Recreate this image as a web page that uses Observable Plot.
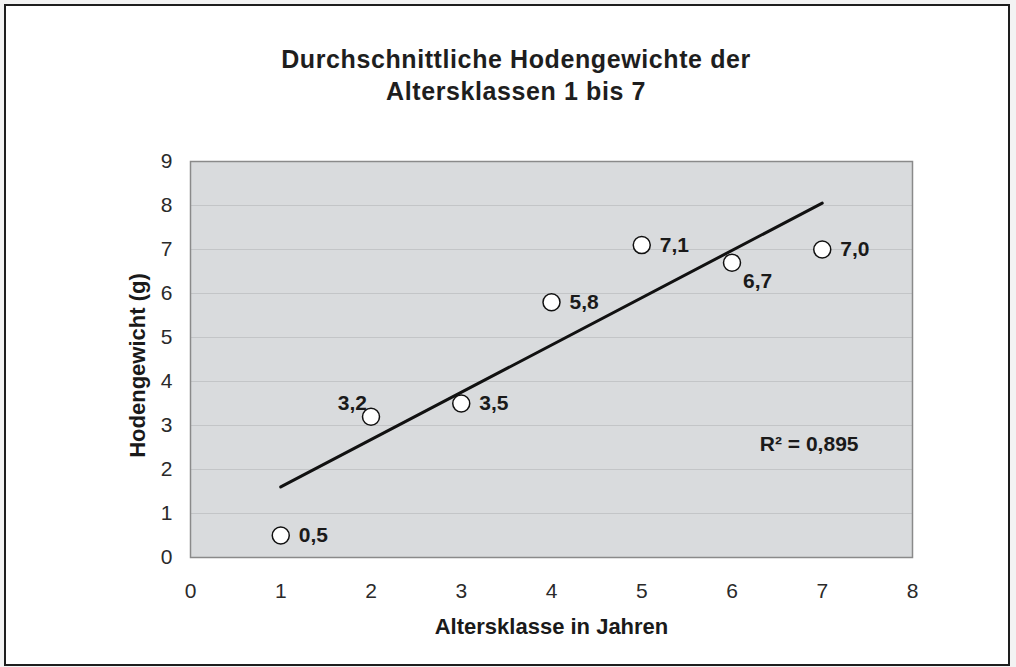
<!DOCTYPE html>
<html>
<head>
<meta charset="utf-8">
<script src="https://cdn.jsdelivr.net/npm/d3@7"></script>
<script src="https://cdn.jsdelivr.net/npm/@observablehq/plot@0.6"></script>
<style>
  html, body { margin: 0; padding: 0; background: #f3f3f3; }
  body { width: 1016px; height: 667px; position: relative; overflow: hidden; font-family: "Liberation Sans", Arial, sans-serif; }
  #frame { position: absolute; left: 4px; top: 4px; width: 1006px; height: 662px; box-sizing: border-box; border: 2px solid #1e1e1e; background: #ffffff; }
  #title { position: absolute; left: 16px; top: 43px; width: 1000px; text-align: center; font-weight: bold; font-size: 25px; line-height: 32px; color: #1e1e1e; letter-spacing: 0.6px; }
  #chart { position: absolute; left: 0; top: 0; }
</style>
</head>
<body>
<div id="frame"></div>
<div id="title">Durchschnittliche Hodengewichte der<br>Altersklassen 1 bis 7</div>
<div id="chart"></div>
<script>
// Data
const ageClasses = [1, 2, 3, 4, 5, 6, 7];
const testisWeight = [0.5, 3.2, 3.5, 5.8, 7.1, 6.7, 7.0];
const labelPlacement = ["right", "above-left", "right", "right", "right", "below-right", "right"];
const xTicks = [0, 1, 2, 3, 4, 5, 6, 7, 8];
const yTicks = [0, 1, 2, 3, 4, 5, 6, 7, 8, 9];
const r2Text = ["R² = 0,895"];
const xTitle = "Altersklasse in Jahren";
const yTitle = "Hodengewicht (g)";

const data = ageClasses.map((a, i) => ({
  x: a,
  y: testisWeight[i],
  label: testisWeight[i].toFixed(1).replace(".", ","),
  place: labelPlacement[i]
}));

const labelFont = {fontSize: 21, fontWeight: "bold", fill: "#1a1a1a", fontFamily: "Liberation Sans, Arial, sans-serif"};

const chart = Plot.plot({
  width: 1016,
  height: 667,
  marginTop: 161,
  marginBottom: 110,
  marginLeft: 190,
  marginRight: 104,
  style: {background: "transparent", fontFamily: "Liberation Sans, Arial, sans-serif", fontSize: "21px", color: "#2a2a2a"},
  x: {domain: [0, 8], ticks: xTicks, tickSize: 0, tickPadding: 26, label: null},
  y: {domain: [0, 9], ticks: yTicks, tickSize: 0, tickPadding: 18, label: null},
  marks: [
    Plot.frame({fill: "#d9dbdd"}),
    Plot.gridY(yTicks, {stroke: "#c3c5c7", strokeOpacity: 1, strokeWidth: 1}),
    Plot.frame({stroke: "#8a8a8a", strokeWidth: 1.5}),
    Plot.axisX({ticks: xTicks, tickSize: 0, tickPadding: 26, fontSize: 21, label: null}),
    Plot.axisY({ticks: yTicks, tickSize: 0, tickPadding: 18, fontSize: 21, label: null}),
    Plot.linearRegressionY(data, {x: "x", y: "y", stroke: "#111", strokeWidth: 3, ci: 0}),
    Plot.dot(data, {x: "x", y: "y", r: 8.5, fill: "white", stroke: "#111", strokeWidth: 1.5}),
    Plot.text(data, {filter: d => d.place === "right", x: "x", y: "y", text: "label", textAnchor: "start", dx: 18, dy: 0, ...labelFont}),
    Plot.text(data, {filter: d => d.place === "above-left", x: "x", y: "y", text: "label", textAnchor: "end", dx: -4, dy: -13, ...labelFont}),
    Plot.text(data, {filter: d => d.place === "below-right", x: "x", y: "y", text: "label", textAnchor: "start", dx: 11, dy: 19, ...labelFont}),
    Plot.text(r2Text, {frameAnchor: "bottom-right", text: d => d, textAnchor: "end", dx: -54, dy: -107, ...labelFont}),
    Plot.text([xTitle], {frameAnchor: "bottom", text: d => d, textAnchor: "middle", dy: 76, fontSize: 22, fontWeight: "bold", fill: "#1a1a1a"}),
    Plot.text([yTitle], {frameAnchor: "left", text: d => d, textAnchor: "middle", rotate: -90, dx: -53, dy: 6, fontSize: 22, fontWeight: "bold", fill: "#1a1a1a"})
  ]
});
document.getElementById("chart").appendChild(chart);
</script>
</body>
</html>
